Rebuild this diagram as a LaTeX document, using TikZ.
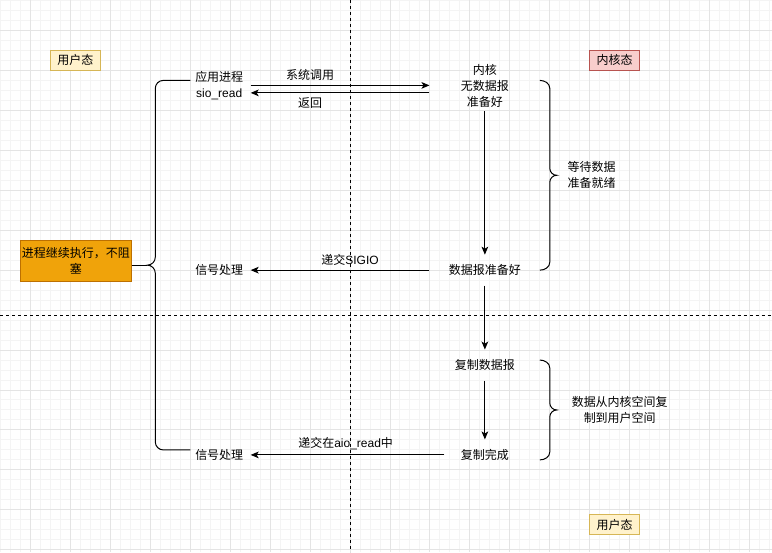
\documentclass[tikz,border=0pt]{standalone}
\usepackage{fontspec}
\setmainfont{Liberation Sans}
\newfontfamily\cjk{Noto Sans CJK SC}
\usetikzlibrary{arrows.meta}
\definecolor{gridminor}{HTML}{F4F4F4}
\definecolor{gridmajor}{HTML}{E4E4E4}
\definecolor{userfill}{HTML}{FFF2CC}
\definecolor{userline}{HTML}{D6B656}
\definecolor{kernfill}{HTML}{F8CECC}
\definecolor{kernline}{HTML}{B85450}
\definecolor{blockfill}{HTML}{F0A30A}
\definecolor{blockline}{HTML}{BD7000}
\begin{document}
\begin{tikzpicture}[x=0.75pt, y=-0.75pt, line width=0.75pt, font=\fontsize{9}{12}\selectfont]
        \tikzstyle{statebox}=[draw, rectangle, minimum width=37.5pt, minimum height=15pt, inner sep=0pt];
        \tikzstyle{txt}=[rectangle, align=center, inner sep=0pt, minimum height=22.5pt];
        \tikzstyle{arr}=[-{Stealth[length=6pt, width=5pt, inset=1.5pt]}];
        \tikzstyle{sep}=[dash pattern=on 2.25pt off 2.25pt];

        \fill[white] (0,0) rectangle (772,552);
        \foreach \x in {0,10,...,770} \draw[gridminor] (\x,0) -- (\x,552);
        \foreach \y in {0,10,...,550} \draw[gridminor] (0,\y) -- (772,\y);
        \foreach \x in {30,70,...,750} \draw[gridmajor] (\x,0) -- (\x,552);
        \foreach \y in {30,70,...,550} \draw[gridmajor] (0,\y) -- (772,\y);
        \draw[sep] (350,0) -- (350,552);
        \draw[sep] (0,315) -- (772,315);

        \node[statebox, fill=userfill, draw=userline] (user1) at (75,60) {\cjk 用户态};
        \node[statebox, fill=kernfill, draw=kernline] (kstate) at (615,60) {\cjk 内核态};
        \node[statebox, fill=userfill, draw=userline] (user2) at (615,525) {\cjk 用户态};
        \node[draw=blockline, fill=blockfill, minimum width=83pt, minimum height=31pt, inner sep=1pt, align=center] (block) at (75.5,260.5) {\cjk 进程继续执行，不阻\\\cjk 塞};

        \node[txt, minimum width=46.5pt] (app) at (219,85) {{\cjk 应用进程}\\sio\_read};
        \node[txt, minimum width=82.5pt, minimum height=37.5pt] (kern) at (485,85.5) {\cjk 内核\\\cjk 无数据报\\\cjk 准备好};
        \node[txt, minimum width=82.5pt] (ready) at (485,270) {\cjk 数据报准备好};
        \node[txt, minimum width=46.5pt] (sig1) at (219,270) {\cjk 信号处理};
        \node[txt, minimum width=82.5pt] (copy) at (485,365) {\cjk 复制数据报};
        \node[txt, minimum width=60pt] (done) at (485,455) {\cjk 复制完成};
        \node[txt, minimum width=46.5pt] (sig2) at (219,455) {\cjk 信号处理};

        \coordinate (lbtip) at (147,265);
        \coordinate (rbtip1) at (557,175);
        \coordinate (rbtip2) at (557,410);
        \node[anchor=west, align=left] (waitnote) at (563,175) {\cjk 等待数据\\\cjk 准备就绪};
        \node[align=center] (copynote) at (620,410) {\cjk 数据从内核空间复\\\cjk 制到用户空间};

        \draw (190,80) -- (163,80) to[out=180,in=90] (155,88) -- (155,257) to[out=-90,in=0] (lbtip)
              to[out=0,in=90] (155,273) -- (155,442) to[out=-90,in=180] (163,450) -- (190,450);
        \draw (540,80) to[out=0,in=90] (550,88) -- (550,168) to[out=-90,in=180] (rbtip1)
              to[out=180,in=90] (550,182) -- (550,262) to[out=-90,in=0] (540,270);
        \draw (540,360) to[out=0,in=90] (550,368) -- (550,403) to[out=-90,in=180] (rbtip2)
              to[out=180,in=90] (550,417) -- (550,452) to[out=-90,in=0] (540,460);
        \draw (block.east |- lbtip) -- (lbtip);

        \draw[arr] (app.east) -- (app.east -| kern.west) node[pos=0.333, above] {\cjk 系统调用};
        \draw[arr] ([yshift=-5.25pt]kern.west) -- ([yshift=-5.25pt]kern.west -| app.east) node[pos=0.667, below] {\cjk 返回};
        \draw[arr] (kern.south) -- (ready.north);
        \draw[arr] (ready.west) -- (sig1.east) node[pos=0.444, above] {{\cjk 递交}SIGIO};
        \draw[arr] (ready.south) -- (copy.north);
        \draw[arr] (copy.south) -- (done.north);
        \draw[arr] (done.west) -- (sig2.east) node[pos=0.51, above] {{\cjk 递交在}aio\_read{\cjk 中}};
\end{tikzpicture}
\end{document}
